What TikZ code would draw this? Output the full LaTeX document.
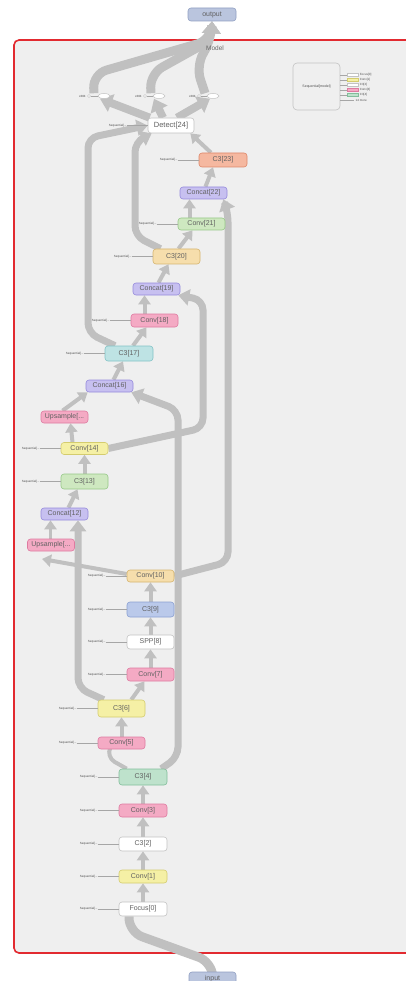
\documentclass[tikz,border=0pt]{standalone}
\usepackage{fontspec}
\setmainfont{Liberation Sans}
\usetikzlibrary{positioning,arrows.meta,shapes.geometric,backgrounds}

\definecolor{bg}{RGB}{239,239,239}
\definecolor{edgegray}{RGB}{192,192,192}
\definecolor{redline}{RGB}{226,42,48}
\definecolor{pinkfill}{RGB}{244,170,196}   \definecolor{pinkline}{RGB}{222,122,160}
\definecolor{purplefill}{RGB}{199,192,240} \definecolor{purpleline}{RGB}{150,138,220}
\definecolor{yellowfill}{RGB}{245,240,165} \definecolor{yellowline}{RGB}{212,204,110}
\definecolor{greenfill}{RGB}{206,232,192}  \definecolor{greenline}{RGB}{150,200,135}
\definecolor{mintfill}{RGB}{190,226,204}   \definecolor{mintline}{RGB}{130,190,155}
\definecolor{cyanfill}{RGB}{190,227,228}   \definecolor{cyanline}{RGB}{130,195,198}
\definecolor{tanfill}{RGB}{246,222,172}    \definecolor{tanline}{RGB}{214,180,110}
\definecolor{salmonfill}{RGB}{245,184,160} \definecolor{salmonline}{RGB}{222,135,105}
\definecolor{bluefill}{RGB}{186,201,234}   \definecolor{blueline}{RGB}{138,160,210}
\definecolor{iofill}{RGB}{186,197,222}     \definecolor{ioline}{RGB}{145,160,195}
\definecolor{whitefill}{RGB}{255,255,255}  \definecolor{whiteline}{RGB}{195,195,195}

\tikzset{
  opbox/.style={draw=#1line, fill=#1fill, rounded corners=3pt, minimum width=47pt,
    minimum height=12pt, inner sep=0pt, line width=0.6pt, text=black!62,
    font=\fontsize{7}{8}\selectfont},
  blkbox/.style={opbox=#1, minimum height=15pt},
  seqlab/.style={inner sep=0pt, text=black!70, font=\fontsize{3}{3.5}\selectfont},
  seqline/.style={draw=black!35, line width=0.35pt},
  legkey/.style={draw=#1line, fill=#1fill, minimum width=11pt, minimum height=3pt,
    inner sep=0pt, line width=0.3pt},
  outop/.style={ellipse, draw=whiteline, fill=white, minimum width=12pt,
    minimum height=5pt, inner sep=0pt, line width=0.5pt},
  knob/.style={circle, draw=black!40, fill=white, minimum size=3pt, inner sep=0pt,
    line width=0.3pt},
  flowline/.style={draw=edgegray, line width=4pt, rounded corners=10pt,
    -{Triangle[width=12pt,length=9pt]}},
  busline/.style={flowline, line width=7pt, -{Triangle[width=16pt,length=11pt]}},
  bandline/.style={flowline, line width=9pt, rounded corners=14pt,
    -{Triangle[width=18pt,length=12pt]}},
}

\newcommand{\seqin}[1]{%
  \node[seqlab, left=21pt of #1] (s#1) {Sequential[...};
  \draw[seqline] (s#1.east) -- (#1.west);}

\begin{document}
\begin{tikzpicture}[x=1pt, y=-1pt]
  \useasboundingbox (0,0) rectangle (406,981);

  % in and out
  \node[opbox=io, minimum width=48pt, minimum height=13pt] (out) at (212,14.5) {output};
  \node[opbox=io, minimum height=13pt] (inp) at (212.5,978.5) {input};
  \node[font=\fontsize{6.5}{7}\selectfont, text=black!60] (model) at (215,48) {Model};

  % backbone
  \node[blkbox=white, minimum width=48pt, minimum height=14pt] (f0) at (143,909) {Focus[0]};
  \node[opbox=yellow, minimum width=48pt, minimum height=13pt] (cv1) at (143,876.5) {Conv[1]};
  \node[blkbox=white, minimum width=48pt, minimum height=14pt] (c2) at (143,844) {C3[2]};
  \node[opbox=pink, minimum width=48pt, minimum height=13pt] (cv3) at (143,810.5) {Conv[3]};
  \node[blkbox=mint, minimum width=48pt, minimum height=16pt] (c4) at (143,777) {C3[4]};
  \node[opbox=pink] (cv5) at (121.5,743) {Conv[5]};
  \node[blkbox=yellow, minimum height=17pt] (c6) at (121.5,708.5) {C3[6]};
  \node[opbox=pink, minimum height=13pt] (cv7) at (150.5,674.5) {Conv[7]};
  \node[blkbox=white, minimum height=14pt] (spp8) at (150.5,642) {SPP[8]};
  \node[blkbox=blue] (c9) at (150.5,609.5) {C3[9]};
  \node[opbox=tan] (cv10) at (150.5,576) {Conv[10]};

  % head
  \node[opbox=pink] (up11) at (51,545) {Upsample[...};
  \node[opbox=purple] (cat12) at (64.5,514) {Concat[12]};
  \node[blkbox=green] (c13) at (84.5,481.5) {C3[13]};
  \node[opbox=yellow] (cv14) at (84.5,448.5) {Conv[14]};
  \node[opbox=pink] (up15) at (64.5,417) {Upsample[...};
  \node[opbox=purple] (cat16) at (109.5,386) {Concat[16]};
  \node[blkbox=cyan, minimum width=48pt] (c17) at (129,353.5) {C3[17]};
  \node[opbox=pink, minimum height=13pt] (cv18) at (154.5,320.5) {Conv[18]};
  \node[opbox=purple] (cat19) at (156.5,289) {Concat[19]};
  \node[blkbox=tan] (c20) at (176.5,256.5) {C3[20]};
  \node[opbox=green] (cv21) at (201.5,224) {Conv[21]};
  \node[opbox=purple] (cat22) at (203.5,193) {Concat[22]};
  \node[blkbox=salmon, minimum width=48pt, minimum height=14pt] (c23) at (223,160) {C3[23]};
  \node[blkbox=white, minimum width=46pt, font=\fontsize{7.5}{8}\selectfont] (det) at (171,125.5) {Detect[24]};

  % Detect outputs
  \node[outop] (e1) at (104,96) {};
  \node[outop] (e2) at (159,96) {};
  \node[outop] (e3) at (213,96) {};
  \node[knob] (k1) at (89,96) {};
  \node[knob] (k2) at (145,96) {};
  \node[knob] (k3) at (199,96) {};
  \node[seqlab, left=1.5pt of k1] (x1) {x384};
  \node[seqlab, left=1.5pt of k2] (x2) {x384};
  \node[seqlab, left=1.5pt of k3] (x3) {x384};
  \draw[seqline] (k1) -- (e1);
  \draw[seqline] (k2) -- (e2);
  \draw[seqline] (k3) -- (e3);

  % Sequential inputs
  \foreach \n in {f0,cv1,c2,cv3,c4,cv5,c6,cv7,spp8,c9,cv10,c13,cv14,c17,cv18,c20,cv21,c23,det}
    {\seqin{\n}}

  % legend
  \node[draw=whiteline, fill=bg, rounded corners=4pt, line width=0.6pt,
    minimum width=47pt, minimum height=47pt, inner sep=0pt, text=black!70,
    font=\fontsize{3.5}{4}\selectfont] (legend) at (316.5,86.5) {Sequential[model]};
  \foreach \i/\yy/\cc/\txt in {0/75/white/Focus[0], 1/80/yellow/Conv[1],
      2/85/white/C3[2], 3/90/pink/Conv[3], 4/95/mint/C3[4]} {
    \node[legkey=\cc] (key\i) at (352.5,\yy) {};
    \node[seqlab, right=1.5pt of key\i] (lab\i) {\txt};
    \draw[seqline] (legend.east |- key\i) -- (key\i.west);
  }
  \coordinate (key5) at (354,100);
  \node[seqlab, right=1.5pt of key5] (lab5) {14 more};
  \draw[seqline] (legend.east |- key5) -- (key5);

  \coordinate (u11in) at (42,559);

  \begin{scope}[on background layer]
    \fill[white] (0,0) rectangle (406,981);
    \draw[draw=redline, line width=1.6pt, fill=bg, rounded corners=5pt] (14,40) rectangle (420,953);

    % backbone flow
    \draw[bandline] ([xshift=-14pt]f0.south) -- (129,932) -- (212,962) -- (inp.north);
    \draw[flowline] (f0) -- (cv1);
    \draw[flowline] (cv1) -- (c2);
    \draw[flowline] (c2) -- (cv3);
    \draw[flowline] (cv3) -- (c4);
    \draw[flowline] ([xshift=8pt]c4.north west) -- (106,757) -- ([xshift=-12pt]cv5.south);
    \draw[busline] ([xshift=-6pt]c4.north east) -- (178,757) -- (178,410) -- ([xshift=-2pt]cat16.south east);
    \draw[flowline] (cv5) -- (c6);
    \draw[flowline] ([xshift=-14pt]c6.north east) -- ([xshift=-6pt]cv7.south);
    \draw[busline] ([xshift=6pt]c6.north west) -- (78,688) -- ([xshift=13.5pt]cat12.south);
    \draw[flowline] (cv7) -- (spp8);
    \draw[flowline] (spp8) -- (c9);
    \draw[flowline] (c9) -- (cv10);
    \draw[flowline] ([yshift=2pt]cv10.west) -- (u11in);
    \draw[busline] (cv10.east) -- (228,562) -- (228,212) -- ([xshift=-4pt]cat22.south east);

    % head flow
    \draw[flowline, line width=3.5pt] ([xshift=-0.5pt]up11.north) -- ([xshift=-14pt]cat12.south);
    \draw[flowline] ([xshift=4pt]cat12.north) -- ([xshift=-7pt]c13.south);
    \draw[flowline] (c13) -- (cv14);
    \draw[flowline] ([xshift=-12pt]cv14.north) -- ([xshift=6pt]up15.south);
    \draw[busline] (cv14.east) -- (203,428) -- (203,300) -- ([xshift=-2pt]cat19.south east);
    \draw[flowline] ([xshift=-2pt]up15.north) -- ([xshift=2pt]cat16.south west);
    \draw[flowline] ([xshift=4pt]cat16.north) -- ([xshift=-6pt]c17.south);
    \draw[flowline] ([xshift=4pt]c17.north) -- ([xshift=-8pt]cv18.south);
    \draw[busline] ([xshift=-14pt]c17.north) -- (88,333) -- (88,138) -- (det.west);
    \draw[flowline] ([xshift=-10pt]cv18.north) -- ([xshift=-12pt]cat19.south);
    \draw[flowline] ([xshift=2pt]cat19.north) -- ([xshift=-8pt]c20.south);
    \draw[flowline] ([xshift=2pt]c20.north) -- ([xshift=-9pt]cv21.south);
    \draw[busline] ([xshift=-16pt]c20.north) -- (135,236) -- (135,142) -- ([xshift=4pt]det.south west);
    \draw[flowline] ([xshift=-12pt]cv21.north) -- ([xshift=-14pt]cat22.south);
    \draw[flowline] ([xshift=2pt]cat22.north) -- ([xshift=-10pt]c23.south);
    \draw[flowline] ([xshift=-12pt]c23.north) -- ([xshift=-4pt]det.south east);

    % Detect to output
    \draw[bandline, line width=8pt] ([xshift=2pt]det.north west) -- ([xshift=-4pt]e1.south);
    \draw[bandline, line width=8pt] ([xshift=-8pt]det.north) -- ([xshift=-5pt]e2.south);
    \draw[bandline, line width=8pt] ([xshift=6pt]det.north) -- ([xshift=-3pt]e3.south);
    \draw[bandline] ([xshift=-10pt]e1.north) -- (93,74) -- (211,40) -- (out.south);
    \draw[bandline] ([xshift=-8pt]e2.north) -- (150,74) -- (211,40) -- (out.south);
    \draw[bandline] ([xshift=-8pt]e3.north) -- (196,66) -- (211,40) -- (out.south);
  \end{scope}
\end{tikzpicture}
\end{document}
